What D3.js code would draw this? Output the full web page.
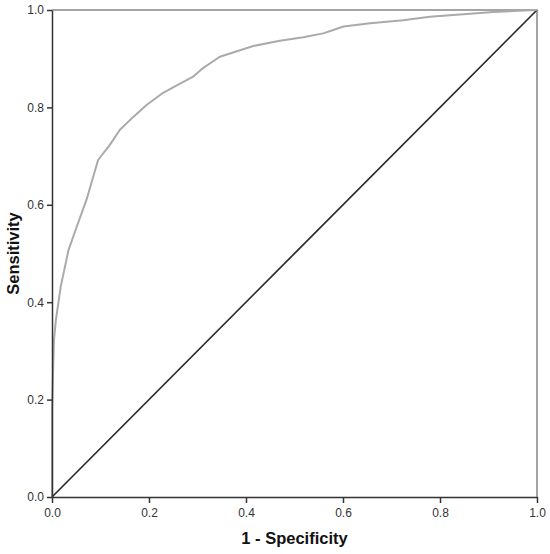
<!DOCTYPE html>
<html>
<head>
<meta charset="utf-8">
<script src="https://cdn.jsdelivr.net/npm/d3@7"></script>
<style>
  body { margin: 0; background: #fff; }
  svg { display: block; font-family: "Liberation Sans", Arial, sans-serif; }
</style>
</head>
<body>
<svg width="550" height="554"></svg>
<script>
// ROC curve points (1 - specificity, sensitivity)
const fpr = [0, 0, 0.004, 0.008, 0.018, 0.034, 0.051, 0.071, 0.095, 0.12, 0.14,
             0.167, 0.195, 0.229, 0.264, 0.291, 0.309, 0.346, 0.415, 0.47, 0.518,
             0.559, 0.58, 0.601, 0.656, 0.724, 0.779, 0.841, 0.91, 1.0];
const tpr = [0, 0.18, 0.322, 0.363, 0.432, 0.507, 0.555, 0.61, 0.692, 0.724, 0.754,
             0.78, 0.805, 0.83, 0.849, 0.863, 0.879, 0.904, 0.926, 0.937, 0.944,
             0.952, 0.959, 0.966, 0.973, 0.979, 0.986, 0.991, 0.996, 1.0];
const refLine = [[0, 0], [1, 1]];
const ticks = [0, 0.2, 0.4, 0.6, 0.8, 1.0];

const svg = d3.select("svg"),
      margin = { top: 10, right: 13, bottom: 57, left: 52 },
      width = 550 - margin.left - margin.right,
      height = 554 - margin.top - margin.bottom;

const chart = svg.append("g")
    .attr("transform", `translate(${margin.left},${margin.top})`);

const x = d3.scaleLinear().domain([0, 1]).range([0, width]);
const y = d3.scaleLinear().domain([0, 1]).range([height, 0]);

// top / right frame
chart.append("path")
    .attr("d", `M0,0H${width}V${height}`)
    .attr("fill", "none")
    .attr("stroke", "#888")
    .attr("stroke-width", 1.5);

const line = d3.line().x(d => x(d[0])).y(d => y(d[1]));

// diagonal reference
chart.append("path")
    .datum(refLine)
    .attr("d", line)
    .attr("fill", "none")
    .attr("stroke", "#2a2a2a")
    .attr("stroke-width", 1.7);

// ROC curve
chart.append("path")
    .datum(fpr.map((f, i) => [f, tpr[i]]))
    .attr("d", line)
    .attr("fill", "none")
    .attr("stroke", "#aaa")
    .attr("stroke-width", 2)
    .attr("stroke-linejoin", "round");

const fmt = d3.format(".1f");

const xAxis = chart.append("g")
    .attr("transform", `translate(0,${height})`)
    .call(d3.axisBottom(x).tickValues(ticks).tickFormat(fmt).tickSize(6).tickSizeOuter(0));

const yAxis = chart.append("g")
    .call(d3.axisLeft(y).tickValues(ticks).tickFormat(fmt).tickSize(5).tickSizeOuter(0));

[xAxis, yAxis].forEach(a => {
    a.select(".domain").attr("stroke", "#333").attr("stroke-width", 1.5);
    a.selectAll(".tick line").attr("stroke", "#333").attr("stroke-width", 1.5);
    a.selectAll(".tick text")
        .attr("fill", "#333")
        .style("font-size", "12px")
        .style("font-family", "'Liberation Sans', Arial, sans-serif");
});
xAxis.selectAll(".tick text").attr("dy", "0.95em");
yAxis.selectAll(".tick text").attr("x", -8);

svg.append("text")
    .attr("x", margin.left + width / 2)
    .attr("y", 544)
    .attr("text-anchor", "middle")
    .style("font-size", "16.5px")
    .style("font-weight", "bold")
    .attr("fill", "#111")
    .text("1 - Specificity");

svg.append("text")
    .attr("transform", `translate(19,${margin.top + height / 2}) rotate(-90)`)
    .attr("text-anchor", "middle")
    .style("font-size", "16.5px")
    .style("font-weight", "bold")
    .attr("fill", "#111")
    .text("Sensitivity");
</script>
</body>
</html>
